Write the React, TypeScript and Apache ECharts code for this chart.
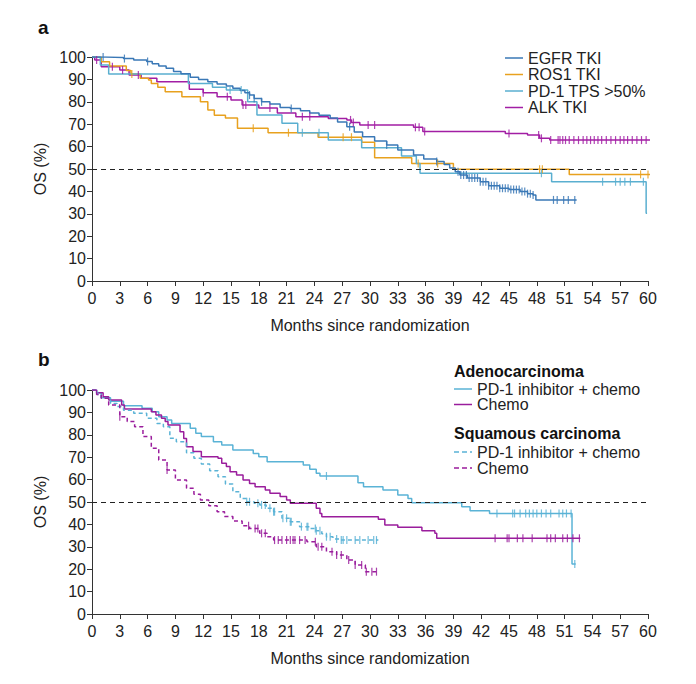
import React, { useEffect, useRef } from 'react';
import * as echarts from 'echarts';

type Pt = [number, number];

// panel a: Kaplan-Meier steps [month, OS %]
const egfrSteps: Pt[] = [
  [0, 100], [1.5, 99.8], [3.4, 99.3], [4.5, 98.7], [5.9, 98], [6.5, 97], [7.2, 96], [8, 95],
  [8.8, 93.5], [9.6, 92.5], [10.6, 91], [11.5, 90], [12.5, 89], [13.5, 88], [14.5, 87], [15.2, 86],
  [16, 85], [16.5, 84], [17, 83], [17.5, 81.5], [18.3, 80], [19.2, 79], [20.3, 77.5], [21.4, 77],
  [22.5, 76], [23.5, 75], [24.5, 74], [25.7, 72.8], [26.5, 71], [27.5, 68.9], [28.3, 66.5],
  [29.2, 64.4], [30.5, 62.5], [31.8, 60.7], [33, 58.5], [34.7, 56.2], [35.8, 54.5], [37.2, 53.3],
  [38, 52], [38.6, 50.4], [39.2, 48.8], [39.7, 47.3], [40.5, 46], [41.9, 44.3], [42.8, 42.5],
  [44, 41.4], [45, 40.8], [46.2, 39.9], [47, 39], [47.6, 38.4], [47.9, 36.2], [52.3, 36.2],
];
const egfrCensor = [
  1.2, 3.5, 6, 17, 17.5, 18.3, 21.5, 27.8, 31.8, 37.2, 39.5, 39.8, 40.1, 40.4, 40.7, 41, 41.3,
  41.6, 41.9, 42.2, 42.5, 42.8, 43.1, 43.4, 43.7, 44, 44.3, 44.6, 44.9, 45.2, 45.5, 45.8, 46.1,
  46.4, 46.7, 47, 47.3, 47.6, 49.8, 50.2, 50.9, 51.4, 52.1,
];

const ros1Steps: Pt[] = [
  [0, 100], [1, 97.9], [1.9, 96], [3.7, 94], [4.2, 92.4], [5.2, 90.5], [6.1, 89.7], [6.4, 88.2],
  [7.1, 86.5], [7.9, 84.5], [9.7, 82.3], [11.7, 80], [12.5, 76.3], [13.2, 74], [14.4, 72.8],
  [15.7, 68.2], [19, 66.2], [24.4, 64.2], [29.1, 61.9], [30.5, 55], [34.5, 52.5], [39, 49.9],
  [51.5, 47.6], [60.5, 47.6],
];
const ros1Censor = [4.3, 17.4, 21.2, 27.1, 28, 35.2, 37.3, 48.3, 48.6, 59.2, 60];

const pd1Steps: Pt[] = [
  [0, 100], [0.9, 96.4], [1.8, 92.4], [10.4, 88.2], [13, 86.5], [14.5, 85.3], [16.8, 80],
  [17.8, 74.1], [20.5, 70.4], [22.2, 66.2], [25.5, 62.9], [29.1, 59.5], [33.4, 55.8], [35, 52.5],
  [35.4, 48.1], [49.6, 44.3], [59.8, 30.2], [59.9, 30.2],
];
const pd1Censor = [14.9, 16.1, 22.7, 24.5, 48.5, 55.1, 56.5, 57, 57.5, 58.1, 59.5];

const alkSteps: Pt[] = [
  [0, 100], [0.3, 98.7], [1, 95.7], [3, 94.2], [4, 92], [5.3, 90.5], [7, 89], [10.5, 85.6],
  [12, 84], [13.5, 82.3], [15, 80.8], [16.2, 78.6], [18, 77.2], [20, 75], [22, 73.3], [25.5, 72.6],
  [27.5, 71.9], [28, 70.8], [28.9, 69.6], [34.7, 68.6], [35.7, 66.7], [44.6, 65.9], [47, 65.2],
  [48.3, 63.7], [49.4, 62.9], [60.5, 62.9],
];
const alkCensor = [
  0.5, 2.2, 3.3, 5, 12, 14.6, 16.3, 16.6, 19.2, 22.7, 23.5, 27.9, 28.2, 29.8, 30.5, 34.9, 35.3,
  35.9, 45, 48.2, 48.5, 49.5, 50.3, 50.5, 50.8, 51.1, 51.5, 52, 52.5, 53, 53.4, 53.8, 54.2, 54.6,
  55, 55.5, 56, 56.5, 57, 57.4, 57.8, 58.3, 58.8, 59.3, 59.8,
];

// panel b
const adenoPdSteps: Pt[] = [
  [0, 100], [0.5, 98.8], [1, 96.5], [2, 95], [3.4, 93], [5.4, 91.8], [6.5, 90.3], [7.2, 88.1],
  [8.1, 86.6], [8.6, 85.1], [10.6, 82.9], [11.2, 80.7], [11.8, 79.2], [13.1, 76.9], [14, 75.4],
  [15.2, 73.2], [17.4, 71.7], [18, 70.2], [18.9, 68], [22.8, 66.5], [23.5, 64.6], [24.2, 62.8],
  [24.6, 61.6], [28.7, 58.6], [29.3, 56.8], [31.4, 55.4], [33, 53.1], [34.1, 51.6], [34.5, 49.7],
  [39.9, 47.9], [40.8, 46.1], [42.9, 44.9], [51.8, 22.3], [52.2, 22.3],
];
const adenoPdCensor = [
  25.3, 43.7, 45.4, 45.6, 46.2, 46.8, 47.2, 47.6, 48, 48.5, 49, 49.5, 50.4, 50.8, 51.2, 51.7, 52.1,
];

const adenoChemoSteps: Pt[] = [
  [0, 100], [0.5, 98.8], [1.2, 97], [1.8, 95.5], [3.2, 93.3], [3.5, 91.5], [6.4, 90.3],
  [6.9, 88.8], [7.5, 87.4], [7.9, 85.9], [8.2, 84.4], [9.5, 81.4], [9.9, 78.4], [10.2, 74.7],
  [10.9, 72.5], [11.8, 70.2], [13.6, 69.5], [14, 67.3], [14.5, 65.8], [14.9, 63.5], [15.6, 62.1],
  [16.3, 59.8], [17, 58.3], [17.6, 56.8], [18.7, 55.4], [19.2, 53.9], [20.3, 52.4], [21, 50.9],
  [21.4, 49.4], [24.2, 47.2], [24.6, 44.9], [24.8, 43.4], [30.9, 42.3], [31.6, 39.7], [33, 38.7],
  [35.6, 37.2], [37, 36.1], [37.2, 33.8], [52.7, 33.8],
];
const adenoChemoCensor = [43.5, 44.8, 45, 45.9, 46.5, 47.5, 49.1, 49.5, 50, 50.8, 51.3, 51.9, 52.6];

const squamPdSteps: Pt[] = [
  [0, 100], [0.6, 98], [1, 96.3], [2, 94], [2.7, 92.6], [3.4, 91], [4.5, 89.6], [5.9, 87.4],
  [7, 85.1], [7.7, 83.6], [8.4, 78.5], [9.1, 76.9], [10.2, 72], [11, 69.5], [11.8, 67], [12.7, 64],
  [13.6, 61.3], [14.4, 58], [15.2, 54.6], [16, 51.6], [16.7, 50.1], [17.5, 49.4], [18.1, 48.7],
  [18.8, 47.2], [19.6, 45.7], [20.5, 42.7], [21.4, 41.2], [22.4, 39], [23.5, 38.2], [24.2, 37.2],
  [24.8, 35.8], [25.3, 34.5], [26, 33.5], [26.8, 33], [30.9, 33],
];
const squamPdCensor = [
  16.7, 17, 17.9, 18.3, 18.7, 19.2, 19.6, 19.7, 20.6, 21, 21.4, 21.5, 22.6, 23.2, 23.3, 24.1,
  24.2, 24.6, 25.3, 25.7, 26.4, 26.9, 27.1, 27.5, 28.4, 28.9, 29.8, 30.4, 30.7,
];

const squamChemoSteps: Pt[] = [
  [0, 100], [0.5, 98], [1, 96.3], [1.8, 93.3], [3, 88.1], [3.8, 85.9], [4.6, 83.6], [5.5, 79.2],
  [6.4, 74], [7.2, 68.75], [8.1, 64.3], [9, 59.8], [10.2, 56.1], [11, 53.5], [11.7, 50.9],
  [12.6, 48.3], [13.5, 45.7], [14.3, 43.5], [15.2, 41.5], [16.2, 39.4], [17, 38.2], [18.1, 36],
  [18.9, 34.5], [19.6, 33], [23.2, 32.3], [24.2, 30], [25.3, 27.8], [26.4, 26.3], [27.5, 24.1],
  [28.4, 21.9], [29.5, 18.9], [30.9, 18.9],
];
const squamChemoCensor = [
  3, 8.1, 16.9, 17.6, 17.9, 18.3, 18.7, 19.7, 20.1, 20.5, 21, 21.4, 21.7, 21.9, 22.4, 23, 24.1,
  24.4, 24.8, 25.9, 26.4, 26.9, 27.7, 28.4, 29.1, 29.6, 30.2, 30.7,
];

const monthTicks = 3;
const osTicks = 10;

const FONT = '"Liberation Sans", Arial, Helvetica, sans-serif';
const INK = '#222';
const AXIS = '#333';

const C_EGFR = '#3a78b6';
const C_ROS1 = '#e8a11e';
const C_PD1 = '#5aafd0';
const C_ALK = '#a21ea4';
const C_BLUE = '#5ab3d6';
const C_PURPLE = '#9a1d9c';

// survival value holding at time t
const survAt = (steps: Pt[], t: number) => {
  let s = steps[0][1];
  for (const [x, y] of steps) {
    if (x <= t) s = y;
    else break;
  }
  return s;
};

const curve = (name: string, steps: Pt[], color: string, idx: number, dashed = false) => ({
  name,
  type: 'line',
  xAxisIndex: idx,
  yAxisIndex: idx,
  step: 'end',
  symbol: 'none',
  data: steps,
  lineStyle: { color, width: 1.5, type: dashed ? [4, 3] : 'solid' },
  z: 3,
});

const censor = (name: string, steps: Pt[], times: number[], color: string, idx: number) => ({
  name: name + ' censored',
  type: 'scatter',
  xAxisIndex: idx,
  yAxisIndex: idx,
  symbol: 'rect',
  symbolSize: [1.2, 8],
  itemStyle: { color, opacity: 0.85 },
  data: times.map((t) => [t, survAt(steps, t)]),
  z: 4,
});

const xAxisFor = (idx: number) => ({
  type: 'value',
  gridIndex: idx,
  min: 0,
  max: 60,
  interval: monthTicks,
  splitLine: { show: false },
  axisLine: { show: true, lineStyle: { color: AXIS, width: 1 } },
  axisTick: { show: true, length: 5, lineStyle: { color: AXIS } },
  axisLabel: { margin: 9, fontSize: 16, color: INK, fontFamily: FONT },
  name: 'Months since randomization',
  nameLocation: 'middle',
  nameGap: 44,
  nameTextStyle: { fontSize: 16, color: INK, fontFamily: FONT, verticalAlign: 'middle' },
});

const yAxisFor = (idx: number) => ({
  type: 'value',
  gridIndex: idx,
  min: 0,
  max: 100,
  interval: osTicks,
  splitLine: { show: false },
  axisLine: { show: true, lineStyle: { color: AXIS, width: 1 } },
  axisTick: { show: true, length: 5, lineStyle: { color: AXIS } },
  axisLabel: { margin: 6, fontSize: 16, color: INK, fontFamily: FONT },
  name: 'OS (%)',
  nameLocation: 'middle',
  nameGap: 47,
  nameRotate: 90,
  nameTextStyle: { fontSize: 16, color: INK, fontFamily: FONT, verticalAlign: 'middle' },
});

const legendRow = (x: number, y: number, color: string, label: string, dashed = false) => [
  {
    type: 'line',
    shape: { x1: x, y1: y, x2: x + 18, y2: y },
    style: { stroke: color, lineWidth: 1.5, lineDash: dashed ? [5, 3] : null },
  },
  {
    type: 'text',
    x: x + 23,
    y,
    style: { text: label, fontSize: 16, fill: INK, fontFamily: FONT, verticalAlign: 'middle' },
  },
];

const heading = (x: number, y: number, label: string) => ({
  type: 'text',
  x,
  y,
  style: {
    text: label,
    fontSize: 16,
    fontWeight: 'bold',
    fill: '#111',
    fontFamily: FONT,
    verticalAlign: 'middle',
  },
});

const panelLabel = (x: number, y: number, label: string) => ({
  type: 'text',
  x,
  y,
  style: {
    text: label,
    fontSize: 19,
    fontWeight: 'bold',
    fill: '#111',
    fontFamily: FONT,
    verticalAlign: 'middle',
  },
});

const halfLine = (idx: number) => ({
  name: 'median ' + idx,
  type: 'line',
  xAxisIndex: idx,
  yAxisIndex: idx,
  data: [],
  markLine: {
    silent: true,
    symbol: 'none',
    label: { show: false },
    lineStyle: { color: '#222', width: 1, type: [5, 4] },
    data: [{ yAxis: 50 }],
  },
});

const App: React.FC = () => {
  const chartRef = useRef<HTMLDivElement | null>(null);

  useEffect(() => {
    if (!chartRef.current) return;
    const myChart = echarts.init(chartRef.current, undefined, { renderer: 'svg' });

    const option: any = {
      animation: false,
      backgroundColor: '#fff',
      grid: [
        { left: 92, top: 57, width: 556, height: 224 },
        { left: 92, top: 390, width: 556, height: 224 },
      ],
      xAxis: [xAxisFor(0), xAxisFor(1)],
      yAxis: [yAxisFor(0), yAxisFor(1)],
      series: [
        halfLine(0),
        halfLine(1),
        curve('ALK TKI', alkSteps, C_ALK, 0),
        curve('ROS1 TKI', ros1Steps, C_ROS1, 0),
        curve('PD-1 TPS >50%', pd1Steps, C_PD1, 0),
        curve('EGFR TKI', egfrSteps, C_EGFR, 0),
        censor('ALK TKI', alkSteps, alkCensor, C_ALK, 0),
        censor('ROS1 TKI', ros1Steps, ros1Censor, C_ROS1, 0),
        censor('PD-1 TPS >50%', pd1Steps, pd1Censor, C_PD1, 0),
        censor('EGFR TKI', egfrSteps, egfrCensor, C_EGFR, 0),
        curve('Adeno PD-1 inhibitor + chemo', adenoPdSteps, C_BLUE, 1),
        curve('Adeno chemo', adenoChemoSteps, C_PURPLE, 1),
        curve('Squamous PD-1 inhibitor + chemo', squamPdSteps, C_BLUE, 1, true),
        curve('Squamous chemo', squamChemoSteps, C_PURPLE, 1, true),
        censor('Adeno PD-1 inhibitor + chemo', adenoPdSteps, adenoPdCensor, C_BLUE, 1),
        censor('Adeno chemo', adenoChemoSteps, adenoChemoCensor, C_PURPLE, 1),
        censor('Squamous PD-1 inhibitor + chemo', squamPdSteps, squamPdCensor, C_BLUE, 1),
        censor('Squamous chemo', squamChemoSteps, squamChemoCensor, C_PURPLE, 1),
      ],
      graphic: [
        panelLabel(38, 27, 'a'),
        panelLabel(38, 359, 'b'),
        ...legendRow(505, 58, C_EGFR, 'EGFR TKI'),
        ...legendRow(505, 74.5, C_ROS1, 'ROS1 TKI'),
        ...legendRow(505, 91, C_PD1, 'PD-1 TPS >50%'),
        ...legendRow(505, 107.5, C_ALK, 'ALK TKI'),
        heading(454, 371, 'Adenocarcinoma'),
        ...legendRow(454, 389, C_BLUE, 'PD-1 inhibitor + chemo'),
        ...legendRow(454, 404.5, C_PURPLE, 'Chemo'),
        heading(454, 433.5, 'Squamous carcinoma'),
        ...legendRow(454, 452, C_BLUE, 'PD-1 inhibitor + chemo', true),
        ...legendRow(454, 468, C_PURPLE, 'Chemo', true),
      ],
    };

    myChart.setOption(option);
    return () => {
      myChart.dispose();
    };
  }, []);

  return (
    <div
      ref={chartRef}
      style={{ position: 'absolute', left: 0, top: 0, width: 696, height: 684 }}
    ></div>
  );
};

export default App;
